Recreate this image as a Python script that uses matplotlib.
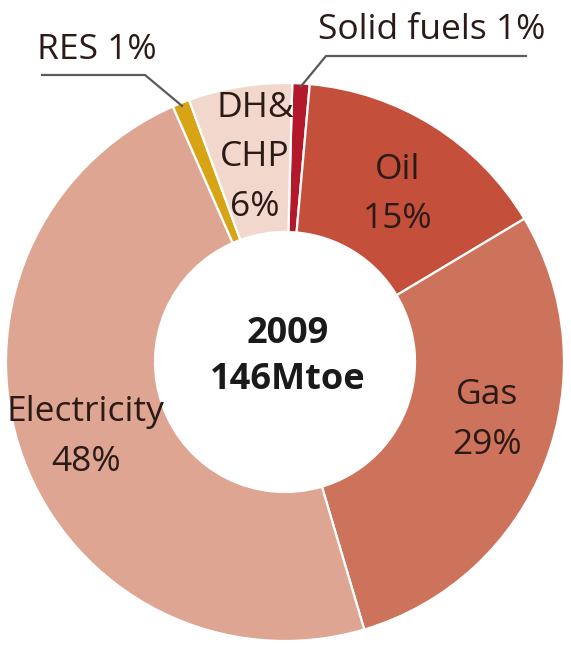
import numpy as np
import matplotlib.pyplot as plt

plt.rcParams['font.family'] = ['Open Sans', 'DejaVu Sans']

# final energy consumption by fuel, 2009
fuels = ["Solid fuels", "Oil", "Gas", "Electricity", "RES", "DH&\nCHP"]
shares = [1, 15, 29, 48, 1, 6]
year = "2009"
total = "146Mtoe"

colors = ["#b3192b", "#c4503b", "#cd735c", "#dda592", "#d6a415", "#f2d8cc"]
text_col = "#2b1a16"

W, H = 571, 645
cx, cy = 285, H - 362
R = 279
ring = 149

fig = plt.figure(figsize=(W / 100, H / 100), dpi=100)
ax = fig.add_axes([0, 0, 1, 1])

wedges, _ = ax.pie(shares, colors=colors, startangle=88.5, counterclock=False,
                   radius=R, center=(cx, cy),
                   wedgeprops=dict(width=ring, edgecolor="white", linewidth=1.6))
ax.set_xlim(0, W)
ax.set_ylim(0, H)
ax.set_aspect("equal")
ax.axis("off")

# labels inside the ring: (radius, angle nudge in degrees)
inside = {1: (202, -1.8), 2: (210, 5.3), 3: (213, 0.5), 5: (207, -1.0)}
for i, (r, nudge) in inside.items():
    w = wedges[i]
    ang = np.deg2rad((w.theta1 + w.theta2) / 2 + nudge)
    ax.text(cx + r * np.cos(ang), cy + r * np.sin(ang),
            f"{fuels[i]}\n{shares[i]}%", ha="center", va="center",
            fontsize=25.5, color=text_col, linespacing=1.6)

# small slices get a leader line and an outside label
def outer_point(w):
    ang = np.deg2rad((w.theta1 + w.theta2) / 2)
    return cx + (R - 3) * np.cos(ang), cy + (R - 3) * np.sin(ang)

x0, y0 = outer_point(wedges[0])
ax.plot([x0, 326, 526], [y0, H - 56, H - 56], color="#5a5a5a", lw=1.6)
ax.text(432, H - 30, f"{fuels[0]} {shares[0]}%", ha="center", va="center",
        fontsize=25.5, color=text_col)

x4, y4 = outer_point(wedges[4])
ax.plot([x4, 145, 42], [y4, H - 75, H - 75], color="#5a5a5a", lw=1.6)
ax.text(97, H - 50, f"{fuels[4]} {shares[4]}%", ha="center", va="center",
        fontsize=25.5, color=text_col)

ax.text(cx + 3, cy + 5, f"{year}\n{total}", ha="center", va="center",
        fontsize=26, fontweight="bold", color="#1a1a1a", linespacing=1.38)

fig.savefig("out.png", dpi=100)
